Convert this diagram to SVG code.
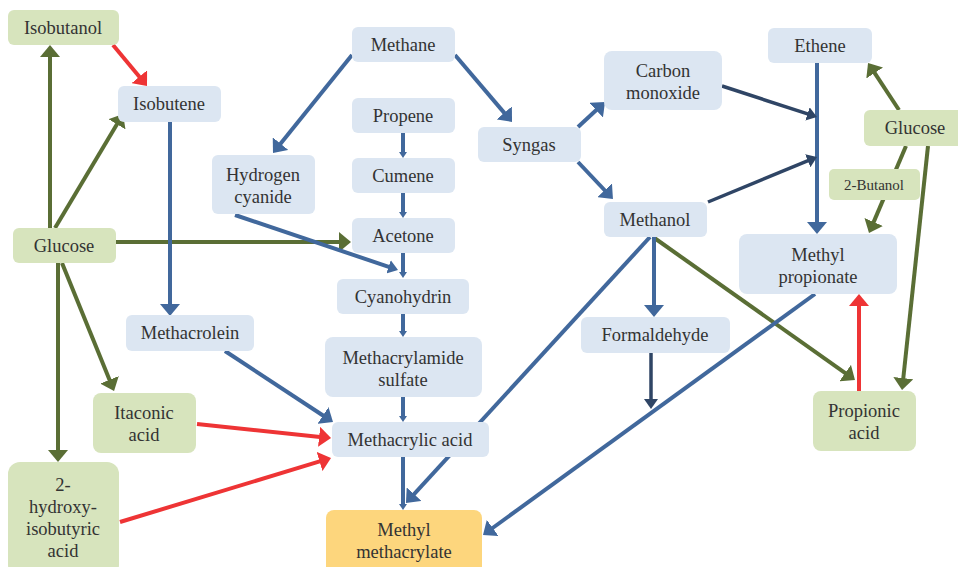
<svg xmlns="http://www.w3.org/2000/svg" width="958" height="567" viewBox="0 0 958 567">
<style>
.b{fill:#dce6f2}
.g{fill:#d7e4bd}
.o{fill:#fdd67d}
text{font-family:"Liberation Serif","Times New Roman",serif;font-size:18.5px;fill:#333;text-anchor:middle}
.sm{font-size:15px}
.cg{stroke:#5a6e35;fill:none;stroke-width:4}
.cb{stroke:#41689c;fill:none;stroke-width:4}
.cn{stroke:#2f4565;fill:none;stroke-width:3.5}
.cr{stroke:#ee3435;fill:none;stroke-width:4}
</style>
<defs>
<marker id="ag" viewBox="0 0 12 20" refX="1" refY="10" markerWidth="12" markerHeight="20" markerUnits="userSpaceOnUse" orient="auto"><path d="M0,0 L12,10 L0,20 z" fill="#5a6e35"/></marker>
<marker id="ab" viewBox="0 0 12 20" refX="1" refY="10" markerWidth="12" markerHeight="20" markerUnits="userSpaceOnUse" orient="auto"><path d="M0,0 L12,10 L0,20 z" fill="#41689c"/></marker>
<marker id="ar" viewBox="0 0 12 20" refX="1" refY="10" markerWidth="12" markerHeight="20" markerUnits="userSpaceOnUse" orient="auto"><path d="M0,0 L12,10 L0,20 z" fill="#ee3435"/></marker>
<marker id="an" viewBox="0 0 10 14" refX="1" refY="7" markerWidth="10" markerHeight="14" markerUnits="userSpaceOnUse" orient="auto"><path d="M0,0 L10,7 L0,14 z" fill="#2f4565"/></marker>
<marker id="abm" viewBox="0 0 10 14" refX="1" refY="7" markerWidth="10" markerHeight="14" markerUnits="userSpaceOnUse" orient="auto"><path d="M0,0 L10,7 L0,14 z" fill="#41689c"/></marker>
<marker id="abs" viewBox="0 0 6 8" refX="1" refY="4" markerWidth="6" markerHeight="8" markerUnits="userSpaceOnUse" orient="auto"><path d="M0,0 L6,4 L0,8 z" fill="#41689c"/></marker>
</defs>

<g id="connectors">
<!-- green -->
<line class="cg" x1="50" y1="228" x2="50" y2="56" marker-end="url(#ag)"/>
<line class="cg" x1="55" y1="228" x2="117.4" y2="123.4" marker-end="url(#ag)"/>
<line class="cg" x1="116" y1="242" x2="340" y2="242" marker-end="url(#ag)"/>
<line class="cg" x1="62" y1="263" x2="109.9" y2="380.8" marker-end="url(#ag)"/>
<line class="cg" x1="58" y1="263" x2="58" y2="451" marker-end="url(#ag)"/>
<line class="cg" x1="899" y1="110" x2="874.1" y2="72.2" marker-end="url(#ag)"/>
<line class="cg" x1="906" y1="146" x2="873.3" y2="222.9" marker-end="url(#ag)"/>
<line class="cg" x1="928" y1="146" x2="903.2" y2="379.1" marker-end="url(#ag)"/>
<line class="cg" x1="653" y1="237" x2="846" y2="373.6" marker-end="url(#ag)"/>
<!-- blue -->
<line class="cb" x1="352" y1="55" x2="279.9" y2="144.4" marker-end="url(#ab)"/>
<line class="cb" x1="455" y1="55" x2="504.9" y2="113.6" marker-end="url(#ab)"/>
<line class="cb" x1="578" y1="127" x2="596.9" y2="109.5" marker-end="url(#ab)"/>
<line class="cb" x1="578" y1="162" x2="605.4" y2="191" marker-end="url(#ab)"/>
<line class="cb" x1="170" y1="122" x2="170" y2="305" marker-end="url(#ab)"/>
<line class="cb" x1="225" y1="351" x2="323.8" y2="416" marker-end="url(#ab)"/>
<line class="cb" x1="650" y1="237" x2="413.4" y2="494.9" marker-end="url(#ab)"/>
<line class="cb" x1="654" y1="237" x2="654" y2="306" marker-end="url(#ab)"/>
<line class="cb" x1="815" y1="294" x2="491.9" y2="528.5" stroke-width="5.5" marker-end="url(#ab)"/>
<line class="cb" x1="817" y1="63" x2="817" y2="223" marker-end="url(#ab)"/>
<line class="cb" x1="403" y1="457" x2="403" y2="505" marker-end="url(#abs)"/>
<line class="cb" x1="403" y1="133" x2="403" y2="153" stroke-width="3" marker-end="url(#abs)"/>
<line class="cb" x1="403" y1="193" x2="403" y2="213" stroke-width="3" marker-end="url(#abs)"/>
<line class="cb" x1="403" y1="253" x2="403" y2="273" stroke-width="3" marker-end="url(#abs)"/>
<line class="cb" x1="403" y1="314" x2="403" y2="332" stroke-width="3" marker-end="url(#abs)"/>
<line class="cb" x1="403" y1="397" x2="403" y2="417" stroke-width="3" marker-end="url(#abs)"/>
<line class="cb" x1="235" y1="215" x2="389.5" y2="267.1" stroke-width="2.5" marker-end="url(#abm)"/>
<!-- navy -->
<line class="cn" x1="722" y1="86" x2="808.4" y2="114.2" marker-end="url(#an)"/>
<line class="cn" x1="708" y1="202" x2="808.7" y2="160.4" marker-end="url(#an)"/>
<line class="cn" x1="651" y1="353" x2="651" y2="400" marker-end="url(#an)"/>
<!-- red -->
<line class="cr" x1="113" y1="45" x2="140" y2="77.5" marker-end="url(#ar)"/>
<line class="cr" x1="197" y1="424" x2="320.1" y2="436.9" marker-end="url(#ar)"/>
<line class="cr" x1="120" y1="522" x2="320.5" y2="461.2" marker-end="url(#ar)"/>
<line class="cr" x1="859" y1="391" x2="859" y2="305" marker-end="url(#ar)"/>
</g>

<g id="isobutanol"><rect class="g" x="8" y="10" width="111" height="35" rx="6"/><text x="63" y="34">Isobutanol</text></g>
<g id="isobutene"><rect class="b" x="118" y="86" width="103" height="36" rx="6"/><text x="169" y="110">Isobutene</text></g>
<g id="hcn"><rect class="b" x="212" y="155" width="103" height="59" rx="6"/><text x="263" y="181">Hydrogen</text><text x="263" y="203">cyanide</text></g>
<g id="glucose-left"><rect class="g" x="13" y="228" width="103" height="35" rx="6"/><text x="64" y="252">Glucose</text></g>
<g id="methane"><rect class="b" x="352" y="27" width="103" height="35" rx="6"/><text x="403" y="51">Methane</text></g>
<g id="propene"><rect class="b" x="352" y="98" width="103" height="35" rx="6"/><text x="403" y="122">Propene</text></g>
<g id="cumene"><rect class="b" x="352" y="158" width="103" height="35" rx="6"/><text x="403" y="182">Cumene</text></g>
<g id="acetone"><rect class="b" x="352" y="218" width="103" height="35" rx="6"/><text x="403" y="242">Acetone</text></g>
<g id="syngas"><rect class="b" x="478" y="127" width="103" height="35" rx="6"/><text x="529" y="151">Syngas</text></g>
<g id="co"><rect class="b" x="604" y="51" width="118" height="59" rx="8"/><text x="663" y="77">Carbon</text><text x="663" y="99">monoxide</text></g>
<g id="methanol"><rect class="b" x="604" y="202" width="103" height="35" rx="6"/><text x="655" y="226">Methanol</text></g>
<g id="ethene"><rect class="b" x="768" y="28" width="104" height="35" rx="6"/><text x="820" y="52">Ethene</text></g>
<g id="glucose-right"><rect class="g" x="864" y="110" width="104" height="36" rx="6"/><text x="915" y="134">Glucose</text></g>
<g id="butanol"><rect class="g" x="829" y="169" width="91" height="31" rx="5"/><text class="sm" x="874" y="190">2-Butanol</text></g>
<g id="methyl-propionate"><rect class="b" x="739" y="234" width="158" height="60" rx="8"/><text x="818" y="261">Methyl</text><text x="818" y="283">propionate</text></g>
<g id="cyanohydrin"><rect class="b" x="337" y="279" width="132" height="35" rx="6"/><text x="403" y="303">Cyanohydrin</text></g>
<g id="methacrylamide"><rect class="b" x="325" y="337" width="157" height="60" rx="8"/><text x="403" y="364">Methacrylamide</text><text x="403" y="386">sulfate</text></g>
<g id="methacrylic-acid"><rect class="b" x="332" y="422" width="157" height="35" rx="6"/><text x="410" y="446">Methacrylic acid</text></g>
<g id="mma"><rect class="o" x="326" y="510" width="156" height="70" rx="8"/><text x="404" y="536">Methyl</text><text x="404" y="558">methacrylate</text></g>
<g id="formaldehyde"><rect class="b" x="581" y="317" width="149" height="36" rx="6"/><text x="655" y="341">Formaldehyde</text></g>
<g id="propionic-acid"><rect class="g" x="813" y="391" width="103" height="60" rx="8"/><text x="864" y="417">Propionic</text><text x="864" y="439">acid</text></g>
<g id="methacrolein"><rect class="b" x="126" y="315" width="128" height="36" rx="6"/><text x="190" y="339">Methacrolein</text></g>
<g id="itaconic-acid"><rect class="g" x="93" y="393" width="103" height="60" rx="8"/><text x="144" y="419">Itaconic</text><text x="144" y="441">acid</text></g>
<g id="hiba"><rect class="g" x="8" y="462" width="111" height="115" rx="12"/><text x="63" y="491">2-</text><text x="63" y="513">hydroxy-</text><text x="63" y="535">isobutyric</text><text x="63" y="557">acid</text></g>
</svg>
